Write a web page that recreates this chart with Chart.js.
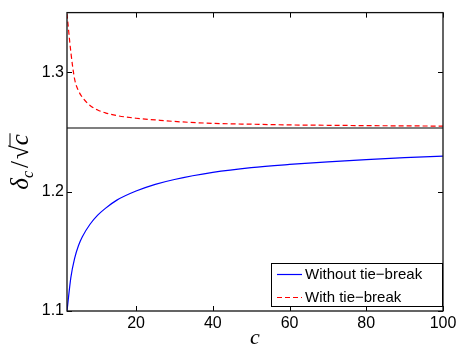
<!DOCTYPE html>
<html>
<head>
<meta charset="utf-8">
<script src="https://cdn.jsdelivr.net/npm/chart.js@4.4.1/dist/chart.umd.min.js"></script>
<style>
  html, body { margin: 0; padding: 0; background: #fff; }
  canvas { display: block; }
</style>
</head>
<body>
<canvas id="c" width="461" height="345"></canvas>
<script>
// ---- data ----
const cValues = [2, 3, 4, 5, 6, 8, 10, 12, 15, 20, 25, 30, 40, 50, 60, 70, 80, 90, 100];
const withoutTieBreak = [1.100, 1.128, 1.1443, 1.1549, 1.1622, 1.1727, 1.1803, 1.1860, 1.1929, 1.2005, 1.2061, 1.2102, 1.2161, 1.2201, 1.2228, 1.2250, 1.2269, 1.2285, 1.2297];
const withTieBreak = [1.349, 1.317, 1.294, 1.2845, 1.279, 1.2722, 1.2684, 1.266, 1.2637, 1.2615, 1.2601, 1.2588, 1.2572, 1.2565, 1.2559, 1.2556, 1.2553, 1.2551, 1.2549];
const referenceC = [2, 100];
const referenceLevel = [1.2533, 1.2533];
const seriesLabels = ['Without tie\u2212break', 'With tie\u2212break'];
const xTicks = [20, 40, 60, 80, 100];
const yTicks = [1.1, 1.2, 1.3];

const toPoints = (xs, ys) => xs.map((x, i) => ({ x: x, y: ys[i] }));

const TICK_FONT = { family: '"Liberation Sans", Arial, sans-serif', size: 16 };

const framePlugin = {
  id: 'frame',
  afterDatasetsDraw(chart) {
    const { ctx, chartArea: a, scales } = chart;
    const xs = scales.x, ys = scales.y;
    ctx.save();
    // inward ticks on all four sides
    ctx.strokeStyle = '#000';
    ctx.lineWidth = 1;
    const tl = 5;
    ctx.beginPath();
    xTicks.forEach(v => {
      const px = Math.round(xs.getPixelForValue(v)) + 0.5;
      ctx.moveTo(px, a.bottom); ctx.lineTo(px, a.bottom - tl);
      ctx.moveTo(px, a.top); ctx.lineTo(px, a.top + tl);
    });
    yTicks.forEach(v => {
      const py = Math.round(ys.getPixelForValue(v)) + 0.5;
      ctx.moveTo(a.left, py); ctx.lineTo(a.left + tl, py);
      ctx.moveTo(a.right, py); ctx.lineTo(a.right - tl, py);
    });
    ctx.stroke();
    // axes box
    ctx.lineWidth = 1.3;
    ctx.strokeStyle = '#111';
    ctx.strokeRect(a.left, a.top, a.right - a.left, a.bottom - a.top);

    // legend (inside, bottom-right)
    const lx = 271, ly = 263, lw = a.right - 271, lh = 44;
    ctx.fillStyle = '#fff';
    ctx.fillRect(lx, ly, lw, lh);
    ctx.lineWidth = 1;
    ctx.strokeStyle = '#000';
    ctx.strokeRect(lx + 0.5, ly + 0.5, lw - 1, lh - 1);
    const rows = [274, 297];
    ctx.font = '15px "Liberation Sans", Arial, sans-serif';
    ctx.textBaseline = 'middle';
    ctx.textAlign = 'left';
    [0, 1].forEach(i => {
      const ds = chart.data.datasets[i];
      ctx.beginPath();
      ctx.strokeStyle = ds.borderColor;
      ctx.lineWidth = ds.borderWidth;
      ctx.setLineDash(ds.borderDash || []);
      ctx.moveTo(277, rows[i] + 0.5);
      ctx.lineTo(302, rows[i] + 0.5);
      ctx.stroke();
      ctx.setLineDash([]);
      ctx.fillStyle = '#000';
      ctx.fillText(ds.label, 305, rows[i] + 1);
    });

    // x-axis title
    ctx.fillStyle = '#000';
    ctx.font = 'italic 22px "Liberation Serif", "DejaVu Serif", serif';
    ctx.textAlign = 'center';
    ctx.textBaseline = 'alphabetic';
    ctx.fillText('c', (a.left + a.right) / 2, 344);

    // y-axis title: delta_c / sqrt(c)
    ctx.save();
    ctx.translate(28, 0);
    ctx.rotate(-Math.PI / 2);
    const big = 'italic 25px "Liberation Serif", "DejaVu Serif", serif';
    const sub = 'italic 16px "Liberation Serif", "DejaVu Serif", serif';
    const reg = '25px "Liberation Serif", "DejaVu Serif", serif';
    const parts = [
      { t: '\u03B4', f: big, dy: 0 },
      { t: 'c', f: sub, dy: 5 },
      { t: '/', f: reg, dy: 0, pre: 3 },
      { t: '\u221A', f: reg, dy: 0, pre: 2 },
      { t: 'c', f: big, dy: 0, bar: true }
    ];
    let total = 0;
    parts.forEach(p => { ctx.font = p.f; p.w = ctx.measureText(p.t).width; total += p.w + (p.pre || 0); });
    const centerY = 162;
    let x = -centerY - total / 2;
    ctx.textAlign = 'left';
    parts.forEach(p => {
      x += p.pre || 0;
      ctx.font = p.f;
      ctx.fillText(p.t, x, p.dy);
      if (p.bar) {
        ctx.beginPath();
        ctx.lineWidth = 1;
        ctx.strokeStyle = '#000';
        ctx.moveTo(x - 1, -18);
        ctx.lineTo(x + p.w + 1, -18);
        ctx.stroke();
      }
      x += p.w;
    });
    ctx.restore();
    ctx.restore();
  }
};

new Chart(document.getElementById('c'), {
  type: 'line',
  data: {
    datasets: [
      {
        label: seriesLabels[0],
        data: toPoints(cValues, withoutTieBreak),
        borderColor: '#0000ff',
        borderWidth: 1.2,
        pointRadius: 0,
        cubicInterpolationMode: 'monotone',
        fill: false
      },
      {
        label: seriesLabels[1],
        data: toPoints(cValues, withTieBreak),
        borderColor: '#ff0000',
        borderWidth: 1.2,
        borderDash: [5, 3],
        pointRadius: 0,
        cubicInterpolationMode: 'monotone',
        fill: false
      },
      {
        label: 'sqrt(pi/2)',
        data: toPoints(referenceC, referenceLevel),
        borderColor: '#555555',
        borderWidth: 1.5,
        pointRadius: 0,
        fill: false
      }
    ]
  },
  options: {
    responsive: false,
    animation: false,
    devicePixelRatio: 1,
    layout: { padding: { left: 0, right: 18, top: 11, bottom: 0 } },
    plugins: { legend: { display: false }, tooltip: { enabled: false } },
    scales: {
      x: {
        type: 'linear',
        min: 2,
        max: 100,
        grid: { display: false, drawTicks: false },
        border: { display: false },
        afterBuildTicks: s => { s.ticks = xTicks.map(v => ({ value: v })); },
        afterFit: s => { s.height = 34; },
        ticks: { font: TICK_FONT, color: '#000', padding: 3, maxRotation: 0, autoSkip: false }
      },
      y: {
        type: 'linear',
        min: 1.1,
        max: 1.35,
        grid: { display: false, drawTicks: false },
        border: { display: false },
        afterBuildTicks: s => { s.ticks = yTicks.map(v => ({ value: v })); },
        afterFit: s => { s.width = 67; },
        ticks: { font: TICK_FONT, color: '#000', padding: 3, autoSkip: false,
                 callback: v => v.toFixed(1) }
      }
    }
  },
  plugins: [framePlugin]
});
</script>
</body>
</html>
